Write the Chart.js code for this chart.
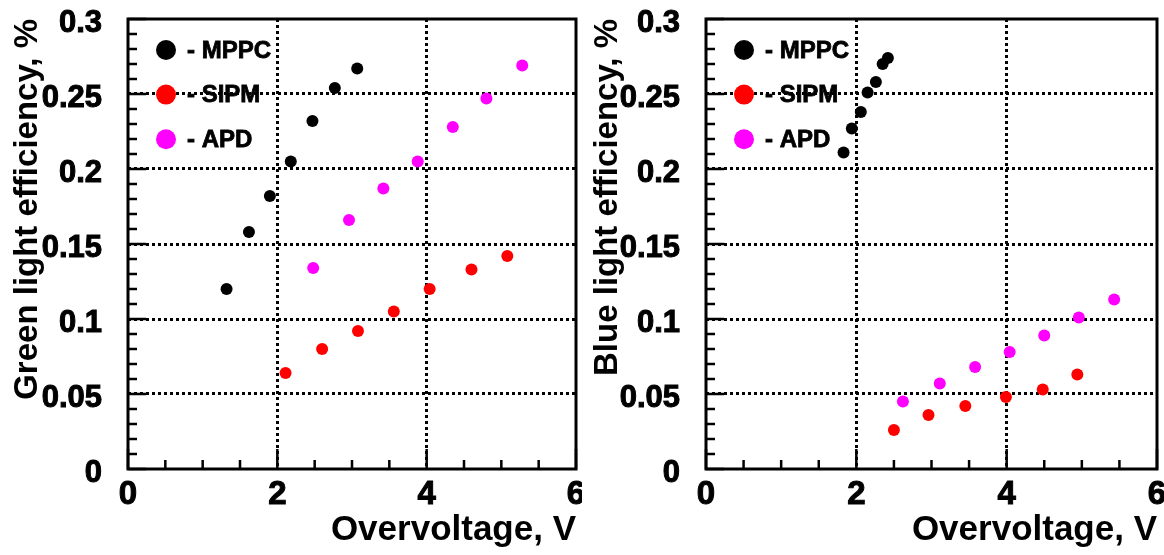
<!DOCTYPE html>
<html>
<head>
<meta charset="utf-8">
<script src="https://cdn.jsdelivr.net/npm/chart.js@4"></script>
<style>
  body { margin: 0; background: #fff; }
  #wrap { position: relative; width: 1164px; height: 555px; }
  canvas { position: absolute; top: 0; }
</style>
</head>
<body>
<div id="wrap">
  <canvas id="green" width="582" height="555" style="left:0px"></canvas>
  <canvas id="blue" width="582" height="555" style="left:582px"></canvas>
</div>
<script>
// ---- data ----
const seriesNames = ['MPPC', 'SIPM', 'APD'];
const seriesColors = ['#000000', '#ff0000', '#ff00ff'];

const xTickValues = [0, 2, 4, 6];
const xTickLabels = ['0', '2', '4', '6'];
const yTickValues = [0, 0.05, 0.1, 0.15, 0.2, 0.25, 0.3];
const yTickLabels = ['0', '0.05', '0.1', '0.15', '0.2', '0.25', '0.3'];

// green light (left panel)
const greenMppcX = [1.32, 1.62, 1.90, 2.18, 2.47, 2.77, 3.07];
const greenMppcY = [0.120, 0.158, 0.182, 0.205, 0.232, 0.254, 0.267];
const greenSipmX = [2.11, 2.60, 3.08, 3.56, 4.04, 4.60, 5.08];
const greenSipmY = [0.064, 0.080, 0.092, 0.105, 0.120, 0.133, 0.142];
const greenApdX = [2.48, 2.96, 3.42, 3.88, 4.35, 4.80, 5.28];
const greenApdY = [0.134, 0.166, 0.187, 0.205, 0.228, 0.247, 0.269];

// blue light (right panel)
const blueMppcX = [1.83, 1.94, 2.06, 2.15, 2.26, 2.35, 2.42];
const blueMppcY = [0.211, 0.227, 0.238, 0.251, 0.258, 0.270, 0.274];
const blueSipmX = [2.50, 2.96, 3.45, 3.99, 4.48, 4.94];
const blueSipmY = [0.026, 0.036, 0.042, 0.048, 0.053, 0.063];
const blueApdX = [2.62, 3.11, 3.58, 4.04, 4.50, 4.96, 5.43];
const blueApdY = [0.045, 0.057, 0.068, 0.078, 0.089, 0.101, 0.113];

const FONT = '"Liberation Sans", Arial, Helvetica, sans-serif';

function pts(xs, ys) {
  return xs.map((x, i) => ({x: x, y: ys[i]}));
}

// frame + inward major/minor ticks, like the ROOT style
const framePlugin = {
  id: 'frame',
  afterDraw(chart) {
    const {ctx, chartArea: a, scales: {x, y}} = chart;
    ctx.save();
    ctx.strokeStyle = '#000';
    ctx.lineWidth = 2.5;
    ctx.beginPath();
    for (let i = 0; i <= 12; i++) {
      const px = x.getPixelForValue(i * 0.5);
      const len = (i % 4 === 0) ? 20 : 9;
      ctx.moveTo(px, a.bottom);
      ctx.lineTo(px, a.bottom - len);
    }
    for (let i = 0; i <= 30; i++) {
      const py = y.getPixelForValue(i * 0.01);
      const len = (i % 5 === 0) ? 18 : 9;
      ctx.moveTo(a.left, py);
      ctx.lineTo(a.left + len, py);
    }
    ctx.stroke();
    ctx.lineWidth = 3;
    ctx.strokeRect(a.left, a.top, a.right - a.left, a.bottom - a.top);
    ctx.restore();
  }
};

// legend drawn inside the plot, no box
const legendPlugin = {
  id: 'innerLegend',
  afterDatasetsDraw(chart) {
    const {ctx, chartArea: a} = chart;
    ctx.save();
    ctx.font = 'bold 24px ' + FONT;
    ctx.textBaseline = 'middle';
    ctx.textAlign = 'left';
    ctx.lineWidth = 0.8;
    ctx.strokeStyle = '#000';
    chart.data.datasets.forEach((ds, i) => {
      const cx = a.left + 38;
      const cy = a.top + 31 + i * 44.6;
      ctx.fillStyle = ds.backgroundColor;
      ctx.beginPath();
      ctx.arc(cx, cy, 10, 0, Math.PI * 2);
      ctx.fill();
      ctx.fillStyle = '#000';
      ctx.fillText('- ' + ds.label, cx + 21, cy + 1);
      ctx.strokeText('- ' + ds.label, cx + 21, cy + 1);
    });
    ctx.restore();
  }
};

function makeChart(id, title, data, padRight, titlePad, yWidth) {
  const datasets = data.map((d, i) => ({
    label: seriesNames[i],
    data: pts(d[0], d[1]),
    backgroundColor: seriesColors[i],
    borderColor: seriesColors[i],
    pointRadius: 6,
    pointBorderWidth: 0,
    showLine: false
  }));
  const gridColor = (c) => (c.index === 0 || c.index === c.scale.ticks.length - 1) ? 'rgba(0,0,0,0)' : '#000';
  return new Chart(document.getElementById(id), {
    type: 'scatter',
    data: {datasets: datasets},
    options: {
      responsive: false,
      animation: false,
      devicePixelRatio: 1,
      layout: {padding: {left: 0, top: 19, right: padRight, bottom: 0}},
      plugins: {legend: {display: false}, tooltip: {enabled: false}},
      scales: {
        x: {
          type: 'linear',
          min: 0, max: 6,
          afterBuildTicks: (s) => { s.ticks = xTickValues.map(v => ({value: v})); },
          afterFit: (s) => { s.height = 86; s.paddingLeft = 0; s.paddingRight = 0; },
          ticks: {
            callback: (v, i) => xTickLabels[i],
            color: '#000',
            textStrokeColor: '#000',
            textStrokeWidth: 1,
            padding: 6,
            maxRotation: 0,
            font: {family: FONT, weight: 'bold', size: 33}
          },
          grid: {color: gridColor, lineWidth: 3, drawTicks: false},
          border: {display: false, dash: [3, 3]},
          title: {
            display: true,
            text: 'Overvoltage, V',
            align: 'end',
            color: '#000',
            padding: {top: 0, bottom: 4},
            font: {family: FONT, weight: 'bold', size: 35}
          }
        },
        y: {
          type: 'linear',
          min: 0, max: 0.3,
          afterBuildTicks: (s) => { s.ticks = yTickValues.map(v => ({value: v})); },
          afterFit: (s) => { s.width = yWidth; s.paddingTop = 0; s.paddingBottom = 0; },
          ticks: {
            callback: (v, i) => yTickLabels[i],
            color: '#000',
            textStrokeColor: '#000',
            textStrokeWidth: 1,
            padding: 26,
            labelOffset: 4,
            font: {family: FONT, weight: 'bold', size: 31}
          },
          grid: {color: gridColor, lineWidth: 3, drawTicks: false},
          border: {display: false, dash: [3, 3]},
          title: {
            display: true,
            text: title,
            align: 'end',
            color: '#000',
            padding: {top: titlePad, bottom: 0},
            font: {family: FONT, weight: 'bold', size: 33}
          }
        }
      }
    },
    plugins: [framePlugin, legendPlugin]
  });
}

makeChart('green', 'Green light efficiency, %',
  [[greenMppcX, greenMppcY], [greenSipmX, greenSipmY], [greenApdX, greenApdY]], 2, 8, 128);
makeChart('blue', 'Blue light efficiency, %',
  [[blueMppcX, blueMppcY], [blueSipmX, blueSipmY], [blueApdX, blueApdY]], 7, 6, 124);
</script>
</body>
</html>
